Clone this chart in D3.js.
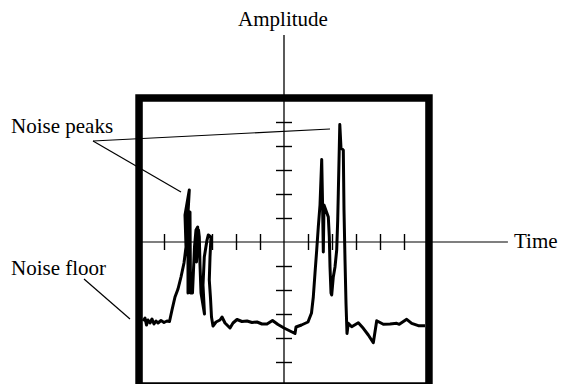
<!DOCTYPE html>
<html>
<head>
<meta charset="utf-8">
<script src="https://cdn.jsdelivr.net/npm/d3@7"></script>
<style>
  body { margin: 0; background: #fff; }
  text { font-family: "Liberation Serif", "Times New Roman", Times, serif; font-size: 21px; fill: #000; }
</style>
</head>
<body>
<div id="chart"></div>
<script>
// trace, in screen divisions (time, amplitude)
const timeVals = [
  -5.875, -5.792, -5.729, -5.667, -5.583, -5.5, -5.417, -5.333, -5.25, -5.125, -5.0, -4.875, -4.771,
  -4.667, -4.542, -4.417, -4.292, -4.167, -4.083,
  -4.125, -3.946, -4.063, -4.0, -4.0, -3.917, -3.896, -3.813,
  -3.729, -3.667, -3.596, -3.646, -3.563, -3.529, -3.5, -3.458, -3.313,
  -3.375, -3.321, -3.208, -3.154, -3.042, -3.083, -3.113, -3.063, -3.021, -2.958,
  -2.833, -2.667, -2.583, -2.458, -2.25, -2.125, -1.958, -1.75, -1.542, -1.333, -1.125, -0.917,
  -0.708, -0.479, -0.25, 0, 0.25, 0.458, 0.5, 0.729, 1.0,
  1.146, 1.221, 1.292, 1.363, 1.429, 1.5, 1.571, 1.604, 1.638, 1.667,
  1.846, 1.888, 1.917, 1.958, 1.988, 2.054, 2.125, 2.196, 2.238, 2.263, 2.325,
  2.375, 2.471, 2.5, 2.542, 2.583, 2.625,
  2.679, 2.821, 3.096, 3.304, 3.513, 3.721, 3.863, 4.138, 4.417, 4.696, 4.804, 5.113, 5.321, 5.596, 5.875
];
const ampVals = [
  -3.292, -3.167, -3.458, -3.25, -3.375, -3.208, -3.417, -3.292, -3.375, -3.271, -3.354, -3.292, -3.313,
  -2.833, -2.292, -1.958, -1.458, -0.875, -0.208,
  1.125, 2.167, 0.083, 1.542, -2.125, 1.25, -2.125, -2.125,
  -0.208, 0.5, 0.625, -0.833, 0.5, 0.208, -0.958, -2.125, -3.0,
  -1.792, -0.625, 0.083, 0.292, 0.208, -0.625, -1.583, -2.333, -3.125, -3.5,
  -3.333, -3.25, -3.125, -3.375, -3.583, -3.375, -3.229, -3.313, -3.292, -3.354, -3.333, -3.417,
  -3.417, -3.271, -3.438, -3.583, -3.708, -3.813, -3.542, -3.458, -3.333,
  -2.958, -2.292, -1.292, -0.333, 0.625, 1.542, 3.438, 1.75, -0.417, 1.542,
  1.042, 0.208, -1.042, -2.125, -2.208, -1.458, -1.042, -0.333, 0.917, 2.042, 4.896,
  3.917, 3.833, 1.333, -0.75, -2.542, -3.813,
  -3.388, -3.529, -3.363, -3.596, -3.875, -4.196, -3.279, -3.429, -3.417, -3.388, -3.429, -3.221, -3.388, -3.488, -3.488
];

const xTicks = [-5, -4, -3, -2, -1, 1, 2, 3, 4, 5];
const yTicks = [-5, -4, -3, -2, -1, 1, 2, 3, 4, 5];

// annotation leaders: [from, to] in divisions
const peakLeaders = [
  [[-7.958, 4.208], [1.917, 4.708]],
  [[-7.958, 4.208], [-4.292, 2.083]]
];
const floorLeaders = [
  [[-8.333, -1.542], [-6.417, -3.208]]
];

const W = 562, H = 384;

const svg = d3.select('#chart')
  .append('svg')
    .attr('width', W)
    .attr('height', H);

// 24px per division, centre of the screen at (284, 242)
const x = d3.scaleLinear().domain([-6, 6]).range([140, 428]);
const y = d3.scaleLinear().domain([-6, 6]).range([386, 98]);

// the thick screen frame
svg.append('rect')
    .attr('x', x(-6.04))
    .attr('y', y(6))
    .attr('width', x(6.04) - x(-6.04))
    .attr('height', y(-6) - y(6))
    .attr('fill', 'none')
    .attr('stroke', '#000')
    .attr('stroke-width', 7.5);

// axis lines
svg.append('line')
    .attr('x1', x(-6.04)).attr('x2', x(9.33))
    .attr('y1', y(0)).attr('y2', y(0))
    .attr('stroke', '#000').attr('stroke-width', 1.2);
svg.append('line')
    .attr('x1', x(0)).attr('x2', x(0))
    .attr('y1', y(8.62)).attr('y2', H)
    .attr('stroke', '#000').attr('stroke-width', 1.3);

// cross ticks: one axis each side of the line
const tickSize = 8;
[d3.axisTop(x), d3.axisBottom(x)].forEach(ax => {
  svg.append('g')
      .attr('transform', `translate(0,${y(0)})`)
      .call(ax.tickValues(xTicks).tickSize(tickSize).tickFormat(''))
      .call(g => g.select('.domain').remove())
      .selectAll('line').attr('stroke-width', 1.4);
});
[d3.axisLeft(y), d3.axisRight(y)].forEach(ax => {
  svg.append('g')
      .attr('transform', `translate(${x(0)},0)`)
      .call(ax.tickValues(yTicks).tickSize(tickSize).tickFormat(''))
      .call(g => g.select('.domain').remove())
      .selectAll('line').attr('stroke-width', 1.4);
});

// the trace
const pts = timeVals.map((t, i) => [t, ampVals[i]]);
const line = d3.line().x(d => x(d[0])).y(d => y(d[1]));

svg.append('path')
    .datum(pts)
    .attr('d', line)
    .attr('fill', 'none')
    .attr('stroke', '#000')
    .attr('stroke-width', 3)
    .attr('stroke-linejoin', 'round');

// leaders
svg.selectAll('.leader')
  .data(peakLeaders.concat(floorLeaders))
  .enter()
  .append('path')
    .attr('class', 'leader')
    .attr('d', line)
    .attr('fill', 'none')
    .attr('stroke', '#000')
    .attr('stroke-width', 1.2);

// labels
svg.append('text')
    .attr('x', x(0) - 1)
    .attr('y', 26)
    .attr('text-anchor', 'middle')
    .text('Amplitude');
svg.append('text')
    .attr('x', 514)
    .attr('y', y(0) + 6)
    .text('Time');
svg.append('text')
    .attr('x', 11)
    .attr('y', 133)
    .text('Noise peaks');
svg.append('text')
    .attr('x', 11)
    .attr('y', 275)
    .text('Noise floor');
</script>
</body>
</html>
